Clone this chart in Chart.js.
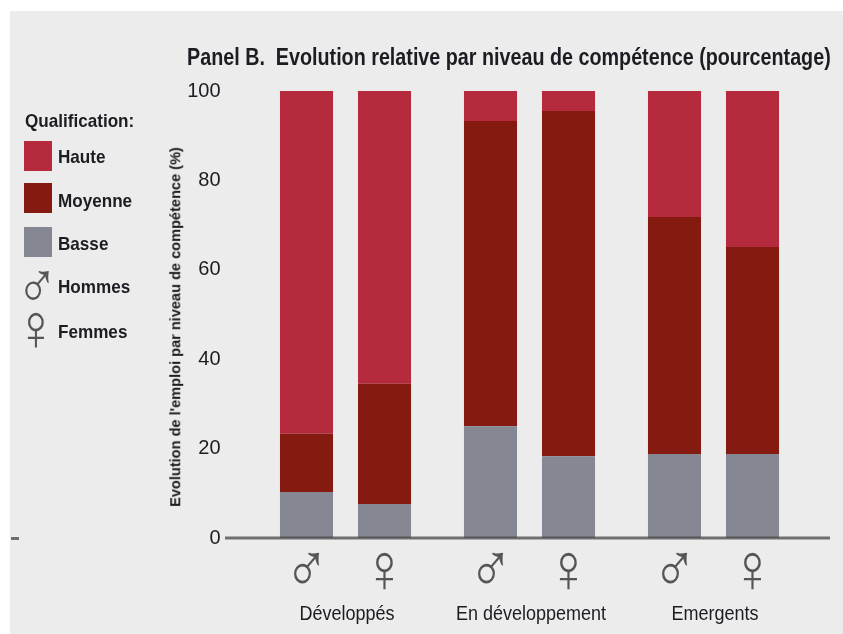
<!DOCTYPE html>
<html lang="fr">
<head>
<meta charset="utf-8">
<title>Panel B</title>
<script src="https://cdn.jsdelivr.net/npm/chart.js@4"></script>
<style>
  html, body { margin: 0; padding: 0; background: #fff; }
  #page { position: relative; width: 843px; height: 634px; overflow: hidden; font-family: "Liberation Sans", sans-serif; color: #1c1c22; }
  #panel { position: absolute; left: 10px; top: 11px; right: 0; bottom: 0; background: #ececec; }
  canvas { position: absolute; left: 0; top: 0; }
  .txt { position: absolute; white-space: nowrap; line-height: 1; transform-origin: left center; }
  .b { font-weight: bold; }
  .leg { font-size: 19px; transform: scaleX(0.9); }
  .swatch { position: absolute; left: 24px; width: 28px; height: 30px; }
  #dash { position: absolute; left: 11px; top: 537px; width: 8px; height: 3px; background: #6f6f6f; }
  .sym { font-family: "Liberation Sans", sans-serif; color: #555; font-size: 66px; transform-origin: center; transform: translateX(-50%) scaleX(0.85); }
</style>
</head>
<body>
<div id="page">
  <div id="panel"></div>
  <canvas id="chart" width="843" height="634"></canvas>
  <div class="txt b" style="left:187px;top:46px;font-size:23px;transform:scaleX(0.858);">Panel B.&nbsp; Evolution relative par niveau de compétence (pourcentage)</div>
  <div class="txt b" style="left:175px;top:327px;font-size:15.5px;transform-origin:center;transform:translate(-50%,-50%) rotate(-90deg) scaleX(0.94);">Evolution de l'emploi par niveau de compétence (%)</div>
  <div class="txt b leg" style="left:25px;top:111px;">Qualification:</div>
  <div class="swatch" id="sw-high" style="top:141px;"></div>
  <div class="swatch" id="sw-mid" style="top:183px;"></div>
  <div class="swatch" id="sw-low" style="top:227px;"></div>
  <div class="txt b leg" style="left:58px;top:147px;">Haute</div>
  <div class="txt b leg" style="left:58px;top:191px;">Moyenne</div>
  <div class="txt b leg" style="left:58px;top:234px;">Basse</div>
  <div class="txt b leg" style="left:58px;top:277px;">Hommes</div>
  <div class="txt b leg" style="left:58px;top:322px;">Femmes</div>
  <div class="txt sym" style="left:37px;top:252px;">♂</div>
  <div class="txt sym" style="left:36px;top:294px;">♀</div>
  <div id="dash"></div>
</div>
<script>
const groups = ['Développés', 'En développement', 'Emergents'];
const yTicks = [0, 20, 40, 60, 80, 100];

// hommes / femmes, one value per group (%)
const lowMen = [10.3, 25, 18.8];
const midMen = [13, 68.3, 53];
const highMen = [76.7, 6.7, 28.2];
const lowWomen = [7.6, 18.3, 18.8];
const midWomen = [26.9, 77.2, 46.3];
const highWomen = [65.5, 4.5, 34.9];

const colorHigh = '#b52a3c';
const colorMid = '#851a10';
const colorLow = '#858792';

document.getElementById('sw-high').style.background = colorHigh;
document.getElementById('sw-mid').style.background = colorMid;
document.getElementById('sw-low').style.background = colorLow;

function serie(label, data, color, stack) {
  return { label, data, backgroundColor: color, stack, categoryPercentage: 0.848, barPercentage: 0.68 };
}

// x axis line runs wider than the bars, sex symbols sit under each bar,
// group labels are squeezed because no condensed font is available
const extras = {
  id: 'extras',
  afterDatasetsDraw(chart) {
    const ctx = chart.ctx;
    const y0 = chart.scales.y.getPixelForValue(0);
    ctx.save();
    ctx.strokeStyle = 'rgba(70,70,70,0.75)';
    ctx.lineWidth = 3;
    ctx.beginPath();
    ctx.moveTo(225, y0);
    ctx.lineTo(830, y0);
    ctx.stroke();

    ctx.fillStyle = '#555';
    ctx.textAlign = 'center';
    ctx.textBaseline = 'middle';
    ctx.font = '70px "Liberation Sans"';
    const symbol = (text, bar) => {
      ctx.save();
      ctx.translate(bar.x, y0 + 35);
      ctx.scale(0.85, 1);
      ctx.fillText(text, 0, 0);
      ctx.restore();
    };
    chart.getDatasetMeta(0).data.forEach(bar => symbol('♂', bar));
    chart.getDatasetMeta(3).data.forEach(bar => symbol('♀', bar));

    ctx.font = '20px "Liberation Sans"';
    ctx.fillStyle = '#1c1c22';
    groups.forEach((label, i) => {
      ctx.save();
      ctx.translate(chart.scales.x.getPixelForValue(i) + 1.5, y0 + 76);
      ctx.scale(0.9, 1);
      ctx.fillText(label, 0, 0);
      ctx.restore();
    });
    ctx.restore();
  }
};

new Chart(document.getElementById('chart'), {
  type: 'bar',
  data: {
    labels: groups,
    datasets: [
      serie('Basse hommes', lowMen, colorLow, 'hommes'),
      serie('Moyenne hommes', midMen, colorMid, 'hommes'),
      serie('Haute hommes', highMen, colorHigh, 'hommes'),
      serie('Basse femmes', lowWomen, colorLow, 'femmes'),
      serie('Moyenne femmes', midWomen, colorMid, 'femmes'),
      serie('Haute femmes', highWomen, colorHigh, 'femmes')
    ]
  },
  options: {
    responsive: false,
    animation: false,
    layout: { padding: { top: 91, right: 37.5, bottom: 0, left: 0 } },
    plugins: { legend: { display: false }, title: { display: false }, tooltip: { enabled: false } },
    scales: {
      x: {
        stacked: true,
        grid: { display: false, drawTicks: false },
        border: { display: false },
        afterFit: scale => { scale.height = 96; },
        ticks: { display: false }
      },
      y: {
        stacked: true,
        min: 0,
        max: 100,
        afterBuildTicks: scale => { scale.ticks = yTicks.map(value => ({ value })); },
        afterFit: scale => { scale.width = 253.5; },
        grid: { display: false, drawTicks: false },
        border: { display: false },
        ticks: { color: '#1c1c22', padding: 33, font: { family: '"Liberation Sans"', size: 20 } }
      }
    }
  },
  plugins: [extras]
});
</script>
</body>
</html>
